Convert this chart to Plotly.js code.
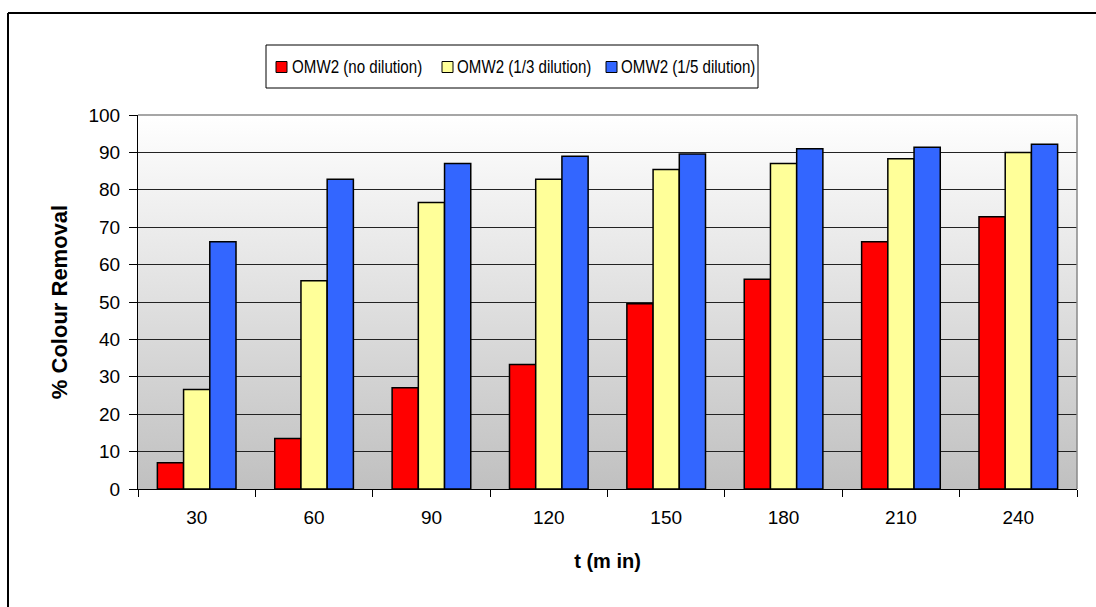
<!DOCTYPE html>
<html>
<head>
<meta charset="utf-8">
<script src="https://cdn.plot.ly/plotly-3.0.1.min.js"></script>
<style>
  html, body { margin: 0; padding: 0; background: #ffffff; }
  #chart { width: 1096px; height: 607px; }
</style>
</head>
<body>
<div id="chart"></div>
<script>
// Treatment time (min)
const times = ['30', '60', '90', '120', '150', '180', '210', '240'];

// % colour removal for each dilution of OMW2
const noDilution    = [7.0, 13.5, 27.1, 33.3, 49.5, 56.1, 66.1, 72.8];
const thirdDilution = [26.6, 55.7, 76.6, 82.8, 85.4, 87.0, 88.3, 90.0];
const fifthDilution = [66.1, 82.8, 87.0, 89.0, 89.6, 91.0, 91.4, 92.2];

const seriesNames = ['OMW2 (no dilution)', 'OMW2 (1/3 dilution)', 'OMW2 (1/5 dilution)'];
const seriesColors = ['#ff0000', '#ffff99', '#3366ff'];
const seriesValues = [noDilution, thirdDilution, fifthDilution];

const font = 'Liberation Sans, Arial, sans-serif';

// Page geometry (pixels) used to place the frame and the key box
const W = 1096, H = 607;
const M = { l: 138, r: 19, t: 115, b: 118 };
const plotW = W - M.l - M.r, plotH = H - M.t - M.b;
const px = x => (x - M.l) / plotW;
const py = y => (H - M.b - y) / plotH;

const traces = seriesValues.map((vals, i) => ({
  type: 'bar',
  name: seriesNames[i],
  x: times,
  y: vals,
  marker: { color: seriesColors[i], line: { color: '#000000', width: 1.5 } },
  hoverinfo: 'x+y+name'
}));

// Vertical white-to-grey fill behind the bars
const gradientSvg =
  '<svg xmlns="http://www.w3.org/2000/svg" width="10" height="100" preserveAspectRatio="none">' +
  '<defs><linearGradient id="g" x1="0" y1="0" x2="0" y2="1">' +
  '<stop offset="0" stop-color="#ffffff"/><stop offset="1" stop-color="#c0c0c0"/>' +
  '</linearGradient></defs><rect width="10" height="100" fill="url(#g)"/></svg>';
const gradientUri = 'data:image/svg+xml;base64,' + btoa(gradientSvg);

// Key box: one swatch + label per series
const keyBox = { x0: 266, x1: 758, y0: 45, y1: 88 };
const keyMid = (keyBox.y0 + keyBox.y1) / 2;
const keySwatchX = [276, 442, 606];
const keyTextX = [290, 455, 619];
const keyTextSqueeze = 0.84;
const keyShapes = [{
  type: 'rect', xref: 'paper', yref: 'paper',
  x0: px(keyBox.x0), x1: px(keyBox.x1), y0: py(keyBox.y1), y1: py(keyBox.y0),
  fillcolor: '#ffffff', line: { color: '#000000', width: 1 }
}];
const keyAnnotations = [];
seriesNames.forEach((name, i) => {
  const sx = keySwatchX[i];
  keyShapes.push({
    type: 'rect', xref: 'paper', yref: 'paper',
    x0: px(sx), x1: px(sx + 11), y0: py(keyMid + 6), y1: py(keyMid - 5),
    fillcolor: seriesColors[i], line: { color: '#000000', width: 1 }
  });
  keyAnnotations.push({
    xref: 'paper', yref: 'paper', x: px(keyTextX[i]), y: py(keyMid),
    xanchor: 'left', yanchor: 'middle', showarrow: false,
    text: name, font: { family: font, size: 18, color: '#000000' }
  });
});

const layout = {
  width: W,
  height: H,
  margin: M,
  paper_bgcolor: '#ffffff',
  plot_bgcolor: 'rgba(0,0,0,0)',
  font: { family: font, size: 19, color: '#000000' },
  barmode: 'group',
  bargap: 0.33,
  bargroupgap: 0,
  showlegend: false,
  xaxis: {
    type: 'category',
    tickson: 'boundaries',
    ticks: 'outside',
    ticklen: 7,
    tickcolor: '#000000',
    ticklabelstandoff: 11,
    showline: true,
    linecolor: '#000000',
    linewidth: 1,
    showgrid: false,
    tickfont: { family: font, size: 19, color: '#000000' },
    title: { text: '<b>t (m in)</b>', font: { family: font, size: 20, color: '#000000' }, standoff: 27 }
  },
  yaxis: {
    range: [0, 100],
    dtick: 10,
    ticks: 'outside',
    ticklen: 8,
    tickcolor: '#000000',
    ticklabelstandoff: 5,
    showline: true,
    linecolor: '#000000',
    linewidth: 1,
    showgrid: true,
    gridcolor: '#222222',
    gridwidth: 1,
    zeroline: false,
    tickfont: { family: font, size: 19, color: '#000000' },
    title: { text: '<b>% Colour Removal</b>', font: { family: font, size: 22, color: '#000000' }, standoff: 14 }
  },
  images: [{
    source: gradientUri,
    xref: 'paper', yref: 'paper',
    x: 0, y: 1, sizex: 1, sizey: 1,
    xanchor: 'left', yanchor: 'top',
    sizing: 'stretch',
    layer: 'below'
  }],
  annotations: keyAnnotations,
  shapes: [
    // plot-area frame on the top and right
    { type: 'line', xref: 'paper', yref: 'paper', x0: 0, x1: 1, y0: 1, y1: 1,
      line: { color: '#888888', width: 1.5 }, layer: 'above' },
    { type: 'line', xref: 'paper', yref: 'paper', x0: 1, x1: 1, y0: 0, y1: 1,
      line: { color: '#888888', width: 1.5 }, layer: 'above' },
    // chart border (top and left edges)
    { type: 'line', xref: 'paper', yref: 'paper',
      x0: px(8), x1: px(W), y0: py(13), y1: py(13),
      line: { color: '#000000', width: 2 } },
    { type: 'line', xref: 'paper', yref: 'paper',
      x0: px(8), x1: px(8), y0: py(13), y1: py(H),
      line: { color: '#000000', width: 2 } }
  ].concat(keyShapes)
};

Plotly.newPlot('chart', traces, layout, { displayModeBar: false, staticPlot: true }).then(gd => {
  // Key labels are set in a condensed face: squeeze each label horizontally
  // about its own left edge.
  gd.querySelectorAll('.annotation-text').forEach(t => {
    const b = t.getBBox();
    const x0 = b.x;
    t.setAttribute('transform',
      'translate(' + x0 + ',0) scale(' + keyTextSqueeze + ',1) translate(' + (-x0) + ',0)');
  });
});
</script>
</body>
</html>
